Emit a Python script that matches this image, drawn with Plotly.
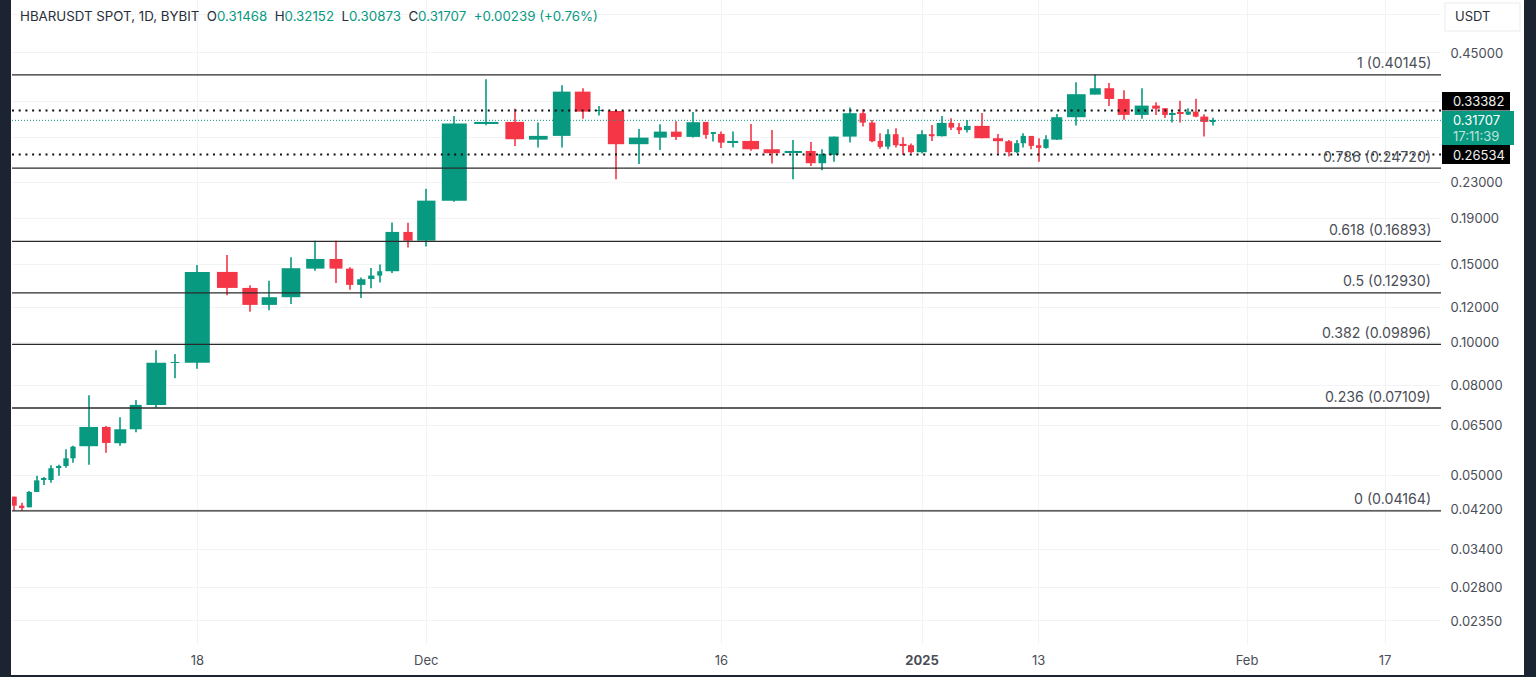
#!/usr/bin/env python3
"""
HBARUSDT daily candles with fib levels, log price axis
"""

import math

import plotly.graph_objs as go

# Time scale of the source chart is uneven, so each candle keeps its own slot and width
candle_x = [14, 21.7, 29.3, 36.7, 43.7, 51, 58.7, 66, 73, 88.7, 106.3, 120.3, 135.7, 156.3, 175,
            197.3, 227.3, 250, 269.3, 291, 315.3, 336, 349.7, 361.3, 371.3, 379.7, 392.3, 408, 426.3,
            454.3, 486.3, 514.7, 538.3, 561.7, 582.7, 599, 616, 638.7, 660.3, 676.3, 693.3, 705.7,
            713.3, 721.3, 732.7, 750.7, 771.7, 793.3, 810.7, 822.3, 833.7, 849.7, 862.7, 872.3,
            880.3, 887.7, 895.7, 903, 911, 921.7, 931.7, 941.7, 951.3, 959.3, 967.3, 982, 998,
            1008.7, 1016.7, 1023.3, 1031.3, 1038.7, 1046, 1056.7, 1076.3, 1095.3, 1109.3, 1123.7,
            1141.7, 1156, 1165, 1172.3, 1180.3, 1188.3, 1195.7, 1204.3, 1212.7]
candle_w = [5.5, 5.3, 5.3, 5.3, 5.3, 5.3, 5.3, 5.3, 5.3, 18.7, 8.7, 12, 12, 19.7, 8.7,
            25, 20.7, 15.3, 15.3, 18.7, 18.3, 13, 7.3, 8.3, 6.3, 5, 13.7, 9.3, 18.3,
            25, 24.3, 18.7, 18.7, 17.7, 15.7, 9, 16.3, 19.7, 13, 10.7, 13.7, 5.7,
            5, 6.7, 11, 16.7, 16.3, 17.3, 10, 7.7, 10, 14, 6.3, 6.3,
            5.3, 5.3, 5.7, 7, 6, 10, 5.7, 10, 5.7, 5.3, 6.7, 15.3, 10,
            7, 5.3, 5.3, 5.3, 5.3, 5.3, 11, 18.7, 11, 9.7, 12,
            14, 7.7, 5.7, 6.7, 6.7, 5.3, 5.7, 8, 6]

opens = [.04485, .04279, .04243, .04595, .04897, .04889, .05205, .05260, .05474, .05828,
         .06442, .05919, .06365, .07224, .08985, .08999, .14420, .13269, .12149, .12644,
         .14669, .15427, .14669, .13480, .13904, .14147, .14472, .17752, .16966, .20887,
         .31173, .31446, .28678, .29243, .36807, .33292, .33292, .28008, .28983, .29899,
         .29090, .31446, .29594, .29548, .28240, .28487, .27283, .26768, .27043, .25373,
         .26492, .29136, .32902, .31334, .28487, .27660, .29502, .28052, .27863, .26865,
         .29502, .29197, .31285, .30594, .30159, .30803, .28891, .28443, .26865, .28153,
         .29243, .27863, .27471, .28678, .32225, .36242, .37464, .35434, .32615, .34229,
         .33765, .32665, .33004, .32665, .33173, .32326, .31468]
highs = [.04485, .04347, .04619, .05001, .04967, .05279, .05296, .05736, .05846, .07597,
         .06476, .06775, .07411, .09596, .09416, .14957, .15754, .13458, .13781, .15566,
         .16950, .16950, .14778, .14000, .14723, .14980, .18650, .18630, .22220, .32445,
         .39254, .33693, .31334, .38058, .37464, .34175, .33410, .30320, .31076, .31559,
         .33122, .31446, .29701, .29899, .29899, .31124, .30159, .28632, .28342, .27283,
         .29136, .33872, .33586, .31768, .29655, .30272, .30432, .29045, .28095, .30113,
         .30964, .32445, .32057, .31285, .31768, .32953, .29548, .28632, .28632, .29655,
         .29243, .28891, .29350, .32784, .38652, .40214, .38514, .37071, .37464, .34835,
         .33765, .33461, .35121, .33765, .35480, .32733, .32152]
lows = [.04168, .04168, .04243, .04595, .04766, .04822, .05001, .05213, .05351, .05296,
        .05637, .05846, .06267, .07122, .08298, .08722, .12777, .11731, .11815, .12212,
        .14516, .13620, .13150, .12597, .13248, .13641, .14347, .16370, .16448, .20780,
        .30915, .27761, .27515, .27515, .31988, .32496, .23344, .25282, .27181, .28632,
        .28983, .28820, .28385, .27471, .27515, .27085, .25322, .23344, .25020, .24461,
        .25582, .28240, .30690, .28298, .27370, .27283, .27515, .26492, .26727, .26672,
        .28487, .29136, .30159, .29548, .29747, .28891, .26672, .26258, .26727, .27515,
        .27283, .25582, .27370, .28632, .30851, .36242, .34175, .31819, .31988, .32615,
        .32107, .31334, .31334, .32615, .32225, .29136, .30873]
closes = [.04279, .04235, .04595, .04881, .04923, .05197, .05260, .05474, .05816, .06442,
          .05929, .06365, .07224, .08999, .09012, .14420, .13269, .12149, .12644, .14700,
          .15427, .14669, .13480, .13882, .14147, .14472, .17752, .16966, .20887, .31173,
          .31446, .28739, .29243, .36807, .33173, .33410, .28008, .28983, .29899, .29090,
          .31398, .29396, .29701, .28240, .28487, .27283, .26727, .27043, .25373, .26630,
          .29136, .32902, .31334, .28443, .27617, .29502, .27863, .27863, .26865, .29502,
          .29197, .31285, .30529, .30113, .30803, .28891, .28443, .26865, .28153, .29243,
          .27761, .27471, .28739, .32225, .36318, .37464, .35434, .32615, .34229, .33693,
          .32615, .32835, .32835, .33173, .32326, .31446, .31707]

# Fib retracement
fib_ratios = ["1", "0.786", "0.618", "0.5", "0.382", "0.236", "0"]
fib_levels = [.40145, .24720, .16893, .12930, .09896, .07109, .04164]

# Horizontal price lines
resistance = .33382
support = .26534
last_price = .31707

price_ticks = [.55, .45, .35, .29, .23, .19, .15, .12, .10, .08, .065, .05, .042, .034, .028, .0235]
price_labels = ["", "0.45000", "", "", "0.23000", "0.19000", "0.15000", "0.12000", "0.10000",
                "0.08000", "0.06500", "0.05000", "0.04200", "0.03400", "0.02800", "0.02350"]
time_ticks = [197.3, 426.3, 721.5, 922, 1038.7, 1247, 1385]
time_labels = ["18", "Dec", "16", "<b>2025</b>", "13", "Feb", "17"]

GREEN = "#089981"
RED = "#f53647"
TEXT = "#4a4e57"
GRID = "#f2f3f5"
FRAME = "#1c2331"
FONT = "Inter"

# plot area in page pixels
LEFT, RIGHT, BOTTOM = 12, 1441, 644


def px(x):
    return (x - LEFT) / (RIGHT - LEFT)


def py(y):
    return 1 - y / BOTTOM


def box(x0, y0, x1, y1, color, line=None):
    return dict(type="rect", xref="paper", yref="paper", x0=px(x0), x1=px(x1), y0=py(y0), y1=py(y1),
                fillcolor=color, line=dict(color=line or color, width=1 if line else 0), layer="above")


def label(x, y, text, color=TEXT, anchor="left", size=13):
    return dict(xref="paper", yref="paper", x=px(x), y=py(y), text=text, showarrow=False,
                xanchor=anchor, yanchor="middle", align="left",
                font=dict(family=FONT, size=size, color=color))


def main():

    colors = [GREEN if c >= o else RED for o, c in zip(opens, closes)]

    fig = go.Figure()

    # Wicks and bodies as bars, the candlestick trace has no per-candle width
    fig.add_trace(go.Bar(x=candle_x, base=lows, y=[h - l for h, l in zip(highs, lows)],
                         width=1.3, marker=dict(color=colors, line=dict(width=0), opacity=.8)))
    fig.add_trace(go.Bar(x=candle_x, base=[min(o, c) for o, c in zip(opens, closes)],
                         y=[abs(c - o) for o, c in zip(opens, closes)], width=candle_w,
                         marker=dict(color=colors, line=dict(width=0))))

    span = [LEFT, RIGHT]
    for level in fib_levels:
        fig.add_trace(go.Scatter(x=span, y=[level, level], mode="lines",
                                 line=dict(color="#2b2b2b", width=1.3)))
    for level in [resistance, support]:
        fig.add_trace(go.Scatter(x=span, y=[level, level], mode="lines",
                                 line=dict(color="#111111", width=2, dash="2px,4.7px")))
    fig.add_trace(go.Scatter(x=span, y=[last_price, last_price], mode="lines",
                             line=dict(color=GREEN, width=1, dash="1px,2px")))

    notes = []
    for ratio, level in zip(fib_ratios, fib_levels):
        notes.append(dict(x=1433, y=math.log10(level), yshift=12, showarrow=False, xanchor="right",
                          text=f"{ratio} ({level:.5f})", font=dict(family=FONT, size=14.2, color=TEXT)))

    g = f"color:{GREEN}"
    notes.append(label(18, 16, "HBARUSDT SPOT, 1D, BYBIT&nbsp;&nbsp;"
                               f"O<span style='{g}'>0.31468</span>&nbsp;&nbsp;"
                               f"H<span style='{g}'>0.32152</span>&nbsp;&nbsp;"
                               f"L<span style='{g}'>0.30873</span>&nbsp;&nbsp;"
                               f"C<span style='{g}'>0.31707</span>&nbsp;&nbsp;"
                               f"<span style='{g}'>+0.00239 (+0.76%)</span>", color="#2a2e39", size=13.3))
    notes.append(label(1453, 16, "USDT", color="#2a2e39"))
    notes.append(label(1451, 101, "0.33382", color="#f0f0f0"))
    notes.append(label(1451, 120, "0.31707", color="#ffffff"))
    notes.append(label(1451, 136, "17:11:39", color="#bfe3dc"))
    notes.append(label(1451, 155, "0.26534", color="#f0f0f0"))

    shapes = [
        box(1442, 92, 1510, 110.5, "#000000"),
        box(1442, 145, 1510, 164, "#000000"),
        box(1442, 111, 1514, 145, GREEN),
        box(1445, 3, 1520, 31, "#ffffff", line="#e9ebef"),
        box(0, 0, 11, 677, FRAME),
        box(1524, 0, 1536, 677, FRAME),
        box(0, 675, 1536, 677, FRAME),
    ]

    layout = go.Layout(
        width=1536, height=677, margin=dict(l=LEFT, r=1536 - RIGHT, t=0, b=677 - BOTTOM),
        paper_bgcolor="#ffffff", plot_bgcolor="#ffffff", showlegend=False, barmode="overlay",
        font=dict(family=FONT, size=13, color=TEXT), hovermode=False,
        xaxis=dict(range=span, tickmode="array", tickvals=time_ticks, ticktext=time_labels,
                   showgrid=True, gridcolor=GRID, gridwidth=1, zeroline=False, showline=False,
                   ticks="outside", ticklen=4, tickcolor="rgba(0,0,0,0)"),
        yaxis=dict(type="log", side="right", range=[math.log10(.02085), math.log10(.5926)],
                   tickmode="array", tickvals=price_ticks, ticktext=price_labels,
                   showgrid=True, gridcolor=GRID, gridwidth=1, zeroline=False, showline=False,
                   ticks="outside", ticklen=6, tickcolor="rgba(0,0,0,0)"),
        annotations=notes, shapes=shapes)
    fig.update_layout(layout)

    fig.write_html("out.html", config=dict(displayModeBar=False),
                   post_script="document.body.style.margin='0';")


if __name__ == "__main__":

    main()
